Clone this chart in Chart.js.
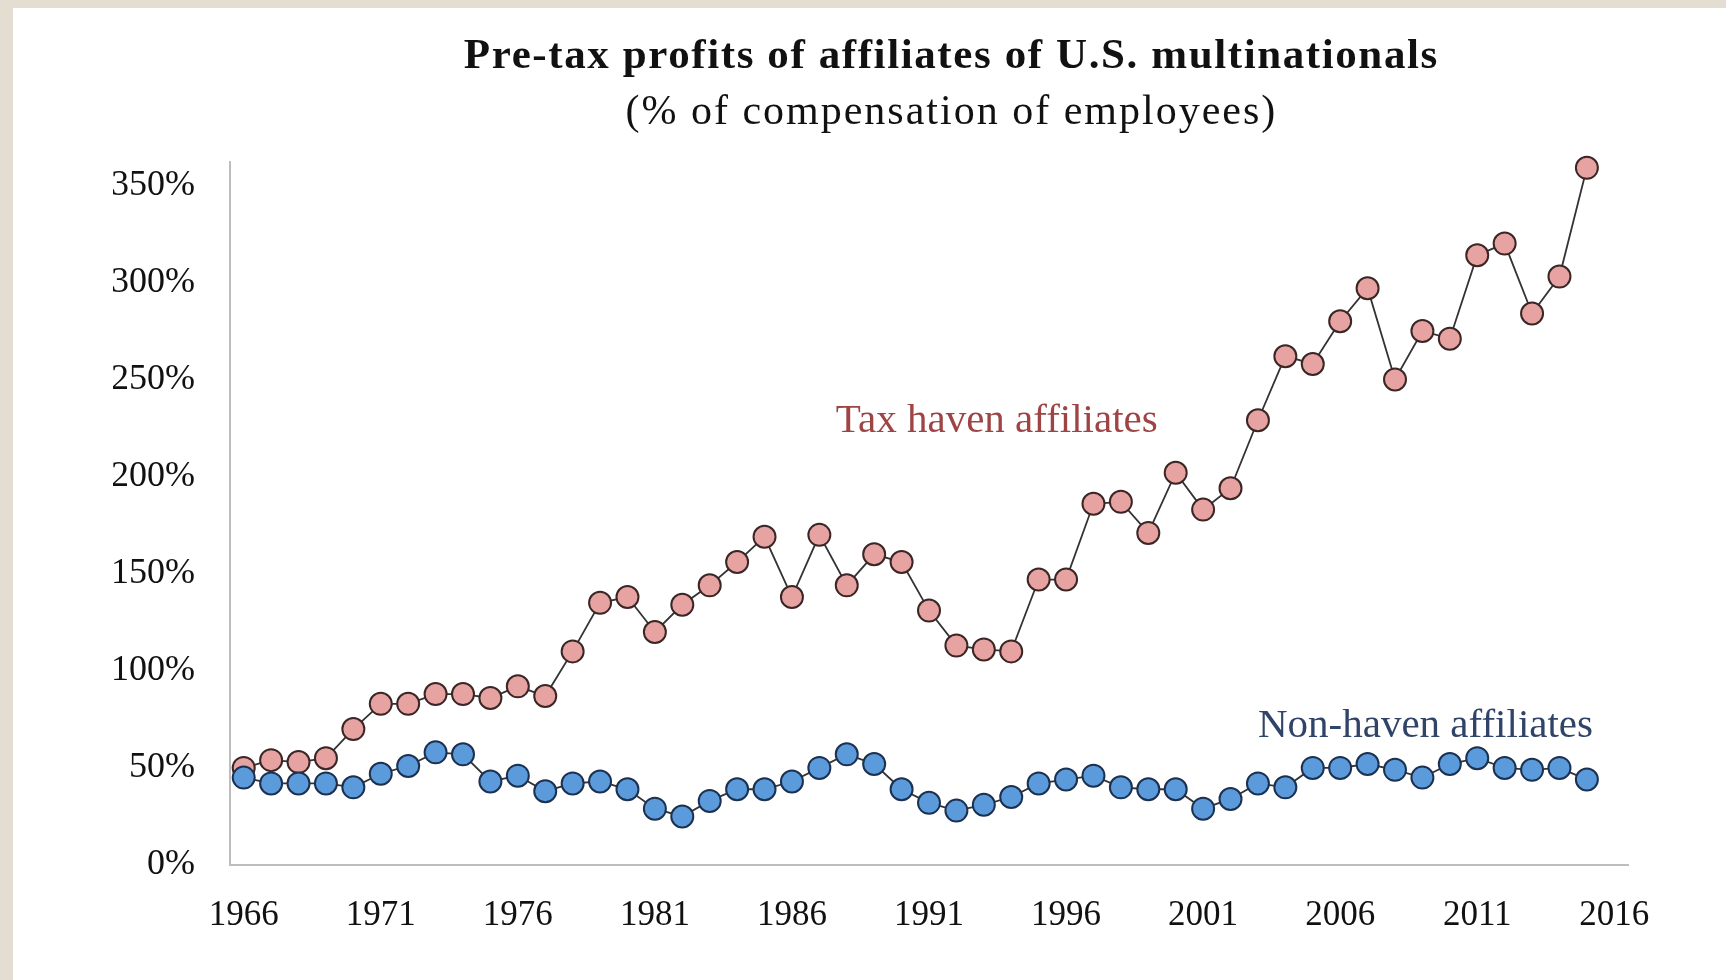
<!DOCTYPE html>
<html>
<head>
<meta charset="utf-8">
<title>Pre-tax profits of affiliates of U.S. multinationals</title>
<script src="https://cdn.jsdelivr.net/npm/chart.js@4/dist/chart.umd.min.js"></script>
<style>
  html, body { margin: 0; padding: 0; }
  body { width: 1726px; height: 980px; background: #e4ded2; position: relative; overflow: hidden; }
  #frame { position: absolute; left: 13px; top: 8px; width: 1713px; height: 972px; background: #fff; }
  #chart { position: absolute; left: 0; top: 0; }
</style>
</head>
<body>
<div id="frame"><canvas id="chart" width="1713" height="972"></canvas></div>
<script>
const years = [1966,1967,1968,1969,1970,1971,1972,1973,1974,1975,1976,1977,1978,1979,1980,1981,1982,1983,1984,1985,
  1986,1987,1988,1989,1990,1991,1992,1993,1994,1995,1996,1997,1998,1999,2000,2001,2002,2003,2004,2005,
  2006,2007,2008,2009,2010,2011,2012,2013,2014,2015];

// profits in % of compensation of employees
const taxHaven = [50,54,53,55,70,83,83,88,88,86,92,87,110,135,138,120,134,144,156,169,
  138,170,144,160,156,131,113,111,110,147,147,186,187,171,202,183,194,229,262,258,
  280,297,250,275,271,314,320,284,303,359];
const nonHaven = [45,42,42,42,40,47,51,58,57,43,46,38,42,43,39,29,25,33,39,39,
  43,50,57,52,39,32,28,31,35,42,44,46,40,39,39,29,34,42,40,50,
  50,52,49,45,52,55,50,49,50,44];

const xTicks = [1966,1971,1976,1981,1986,1991,1996,2001,2006,2011,2016];
const yTicks = [0,50,100,150,200,250,300,350];

const serif = '"Liberation Serif", "DejaVu Serif", serif';

// titles and series labels, placed against the plot area
const labelsPlugin = {
  id: 'labels',
  afterDraw(chart) {
    const ctx = chart.ctx;
    const area = chart.chartArea;
    const x = chart.scales.x, y = chart.scales.y;
    const cx = area.left + (area.right - area.left) * 0.516;
    ctx.save();
    ctx.textAlign = 'center';
    ctx.textBaseline = 'alphabetic';
    ctx.fillStyle = '#111';
    ctx.font = 'bold 43px ' + serif;
    ctx.letterSpacing = '1.6px';
    ctx.fillText('Pre-tax profits of affiliates of U.S. multinationals', cx, 60);
    ctx.font = '42px ' + serif;
    ctx.letterSpacing = '2px';
    ctx.fillText('(% of compensation of employees)', cx, 116);

    ctx.textAlign = 'left';
    ctx.letterSpacing = '0px';
    ctx.font = '41px ' + serif;
    ctx.fillStyle = '#9e4444';
    ctx.fillText('Tax haven affiliates', x.getPixelForValue(1987.6), y.getPixelForValue(223));
    ctx.fillStyle = '#2f4468';
    ctx.fillText('Non-haven affiliates', x.getPixelForValue(2003.0), y.getPixelForValue(66));
    ctx.restore();
  }
};

function pts(values) {
  return values.map((v, i) => ({ x: years[i], y: v }));
}

new Chart(document.getElementById('chart'), {
  type: 'line',
  data: {
    datasets: [
      {
        label: 'Tax haven affiliates',
        data: pts(taxHaven),
        order: 1,
        clip: false,
        borderColor: '#333',
        borderWidth: 1.8,
        pointRadius: 11,
        pointBorderWidth: 2,
        pointBackgroundColor: '#e6a3a1',
        pointBorderColor: '#3b2626',
        tension: 0,
      },
      {
        label: 'Non-haven affiliates',
        data: pts(nonHaven),
        order: 0,
        clip: false,
        borderColor: '#333',
        borderWidth: 1.8,
        pointRadius: 11,
        pointBorderWidth: 2,
        pointBackgroundColor: '#5b9bdc',
        pointBorderColor: '#1c3150',
        tension: 0,
      },
    ],
  },
  plugins: [labelsPlugin],
  options: {
    responsive: false,
    animation: false,
    events: [],
    layout: {
      padding: { left: 100, right: 98, top: 154, bottom: 43 },
    },
    plugins: {
      legend: { display: false },
      title: { display: false },
      tooltip: { enabled: false },
    },
    scales: {
      x: {
        type: 'linear',
        min: 1965.5,
        max: 2016.5,
        afterBuildTicks: (scale) => { scale.ticks = xTicks.map(v => ({ value: v })); },
        afterFit: (scale) => { scale.height = 72; },
        grid: { display: false, drawTicks: false },
        border: { display: true, color: '#bdbdbd', width: 2 },
        ticks: {
          autoSkip: false,
          maxRotation: 0,
          padding: 30,
          color: '#111',
          font: { family: serif, size: 35 },
          callback: (v) => String(v),
        },
      },
      y: {
        type: 'linear',
        min: 0,
        max: 362,
        afterBuildTicks: (scale) => { scale.ticks = yTicks.map(v => ({ value: v })); },
        afterFit: (scale) => { scale.width = 117; },
        grid: { display: false, drawTicks: false },
        border: { display: true, color: '#bdbdbd', width: 2 },
        ticks: {
          padding: 35,
          color: '#111',
          font: { family: serif, size: 36 },
          callback: (v) => v + '%',
        },
      },
    },
  },
});
</script>
</body>
</html>
